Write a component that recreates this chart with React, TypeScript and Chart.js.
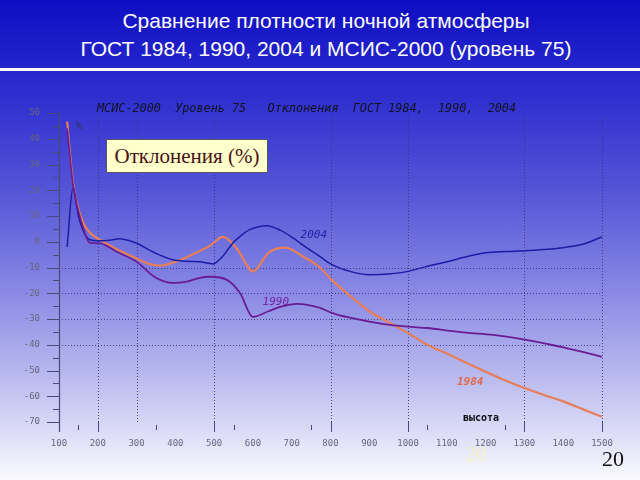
import React, { useEffect, useRef } from "react";
import { Chart, registerables } from "chart.js";

Chart.register(...registerables);

// ---- Data (altitude km -> deviation %) ----
const alt2004 = [121, 136, 150, 170, 180, 200, 230, 257, 280, 300, 350, 394, 430, 463, 497, 520, 549, 570, 592, 636, 670, 703, 740, 773, 800, 850, 902, 950, 1000, 1050, 1100, 1150, 1200, 1250, 1300, 1350, 1400, 1450, 1500];
const dev2004 = [-2, 21, 10, 2, 0.8, 0.4, 0.6, 1.2, 0.5, -0.6, -4.5, -7, -7.6, -7.8, -8.6, -6, -0.4, 2.5, 4.7, 6.2, 4.5, 1.5, -2.5, -5.8, -8.6, -11.5, -12.8, -12.5, -11.5, -9.5, -7.8, -5.8, -4.3, -3.8, -3.5, -3, -2.3, -1, 1.9];

const alt1990 = [121, 136, 159, 180, 205, 250, 300, 350, 394, 430, 463, 489, 533, 567, 600, 640, 670, 713, 773, 803, 850, 900, 953, 1000, 1050, 1108, 1150, 1219, 1301, 1358, 1400, 1450, 1500];
const dev1990 = [44, 22, 7, -0.4, -0.6, -4, -7.8, -14, -16, -15.5, -14, -13.6, -14.8, -20, -29.2, -27, -25.3, -24.1, -25.7, -27.6, -29.5, -31, -32.3, -33, -33.5, -34.6, -35.3, -36.2, -38, -39.7, -41, -42.8, -44.7];

const alt1984 = [121, 136, 159, 180, 205, 250, 291, 330, 360, 400, 450, 490, 523, 560, 600, 640, 683, 730, 773, 803, 850, 900, 953, 1000, 1050, 1108, 1150, 1200, 1237, 1300, 1366, 1400, 1450, 1500];
const dev1984 = [46.7, 23, 8.6, 3.5, 0.8, -3, -5.8, -8.5, -9.3, -7.8, -4.5, -1.5, 1.9, -3, -11.5, -4.3, -2.3, -5.8, -10, -14.8, -21, -27, -31.5, -35.5, -40, -44, -47, -50.5, -53, -56.8, -60.3, -62, -65, -68];

// ---- Axis / tick definitions ----
const xMin = 100;
const xMax = 1500;
const xStep = 100;
const yMin = -70;
const yMax = 50;
const yStep = 10;
const xMajorTicks = [200, 500, 800, 1000, 1300, 1500];
const xMinorTicks = [150, 350, 550, 750, 1050, 1250];
const xGridValues = [200, 300, 500, 800, 1000, 1300, 1500];
const yGridValues = [-10, -20, -30, -40];
const yMajorTicks = [50, 40, 30, 20, 10, 0, -10, -20, -30, -40, -50, -60, -70];
const yMinorTicks = [45, 35, 25, 15, 5, -5, -15, -25, -35, -45, -55, -65];

// ---- Texts ----
const titleLines = ["Сравнение плотности ночной атмосферы", "ГОСТ 1984, 1990, 2004 и МСИС-2000 (уровень 75)"];
const headerText = "МСИС-2000  Уровень 75   Отклонения  ГОСТ 1984,  1990,  2004";
const boxText = "Отклонения (%)";
const pageNumber = "20";

const toPoints = (xs: number[], ys: number[]) => xs.map((x, i) => ({ x, y: ys[i] }));

const decorPlugin = {
  id: "decor",
  beforeDatasetsDraw(chart: any) {
    const { ctx, chartArea: a } = chart;
    const xs = chart.scales.x;
    const ys = chart.scales.y;
    ctx.save();
    // dotted grid
    ctx.strokeStyle = "rgba(50,50,120,0.85)";
    ctx.lineWidth = 1;
    ctx.setLineDash([1, 2]);
    xGridValues.forEach((v) => {
      const px = Math.round(xs.getPixelForValue(v)) + 0.5;
      ctx.beginPath();
      ctx.moveTo(px, a.top + 2);
      ctx.lineTo(px, a.bottom);
      ctx.stroke();
    });
    yGridValues.forEach((v) => {
      const py = Math.round(ys.getPixelForValue(v)) + 0.5;
      ctx.beginPath();
      ctx.moveTo(a.left, py);
      ctx.lineTo(a.right, py);
      ctx.stroke();
    });
    ctx.setLineDash([]);
    // axis line
    ctx.strokeStyle = "#4a4a7a";
    ctx.lineWidth = 1.2;
    ctx.beginPath();
    ctx.moveTo(a.left + 0.5, a.top);
    ctx.lineTo(a.left + 0.5, a.bottom + 10);
    ctx.stroke();
    ctx.lineWidth = 1;
    yMajorTicks.forEach((v) => {
      const py = Math.round(ys.getPixelForValue(v)) + 0.5;
      ctx.beginPath();
      ctx.moveTo(a.left - 12, py);
      ctx.lineTo(a.left, py);
      ctx.stroke();
    });
    yMinorTicks.forEach((v) => {
      const py = Math.round(ys.getPixelForValue(v)) + 0.5;
      ctx.beginPath();
      ctx.moveTo(a.left - 6, py);
      ctx.lineTo(a.left, py);
      ctx.stroke();
    });
    xMajorTicks.forEach((v) => {
      const px = Math.round(xs.getPixelForValue(v)) + 0.5;
      ctx.beginPath();
      ctx.moveTo(px, a.bottom);
      ctx.lineTo(px, a.bottom + 10);
      ctx.stroke();
    });
    xMinorTicks.forEach((v) => {
      const px = Math.round(xs.getPixelForValue(v)) + 0.5;
      ctx.beginPath();
      ctx.moveTo(px, a.bottom + 3);
      ctx.lineTo(px, a.bottom + 8);
      ctx.stroke();
    });
    ctx.restore();
  },
  afterDatasetsDraw(chart: any) {
    const { ctx, chartArea: a } = chart;
    const xs = chart.scales.x;
    const ys = chart.scales.y;
    const px = (v: number) => xs.getPixelForValue(v);
    const py = (v: number) => ys.getPixelForValue(v);
    ctx.save();
    ctx.textBaseline = "middle";
    // header
    ctx.textAlign = "left";
    ctx.fillStyle = "#121220";
    ctx.font = "italic 11.8px 'DejaVu Sans Mono'";
    ctx.fillText(headerText, px(198), a.top - 4);
    // %
    ctx.font = "italic 11px 'DejaVu Sans Mono'";
    ctx.fillStyle = "#333355";
    ctx.textAlign = "center";
    ctx.fillText("%", px(152), py(45));
    // curve labels
    ctx.font = "italic 11px 'DejaVu Sans Mono'";
    ctx.fillStyle = "#2424a6";
    ctx.fillText("2004", px(757), py(2.7));
    ctx.fillStyle = "#7426a0";
    ctx.fillText("1990", px(659), py(-23.5));
    ctx.font = "italic bold 11px 'DejaVu Sans Mono'";
    ctx.fillStyle = "#e0684a";
    ctx.fillText("1984", px(1160), py(-54.4));
    ctx.font = "bold 10px 'DejaVu Sans Mono'";
    ctx.fillStyle = "#101018";
    ctx.fillText("высота", px(1188), py(-68.7));
    ctx.restore();
  },
};

export default function App() {
  const canvasRef = useRef<HTMLCanvasElement | null>(null);

  useEffect(() => {
    document.body.style.margin = "0";
    const canvas = canvasRef.current;
    if (!canvas) return;
    const chart = new Chart(canvas, {
      type: "line",
      data: {
        datasets: [
          {
            label: "1990",
            data: toPoints(alt1990, dev1990),
            borderColor: "#6a1c92",
            borderWidth: 1.8,
            pointRadius: 0,
            cubicInterpolationMode: "monotone",
            fill: false,
          },
          {
            label: "2004",
            data: toPoints(alt2004, dev2004),
            borderColor: "#1c1ca4",
            borderWidth: 1.5,
            pointRadius: 0,
            cubicInterpolationMode: "monotone",
            fill: false,
          },
          {
            label: "1984",
            data: toPoints(alt1984, dev1984),
            borderColor: "#e67e58",
            borderWidth: 2.2,
            pointRadius: 0,
            cubicInterpolationMode: "monotone",
            fill: false,
          },
        ],
      },
      options: {
        responsive: false,
        animation: false,
        layout: { padding: { top: 113, right: 38, left: 0, bottom: 0 } },
        plugins: {
          legend: { display: false },
          tooltip: { enabled: false },
          title: { display: false },
        },
        scales: {
          x: {
            type: "linear",
            min: xMin,
            max: xMax,
            grid: { display: false, drawTicks: false },
            border: { display: false },
            ticks: {
              stepSize: xStep,
              color: "#66667e",
              font: { family: "'DejaVu Sans Mono'", size: 9 },
              padding: 16,
              maxRotation: 0,
              autoSkip: false,
              callback: (v: any) => String(v),
            },
            afterFit: (s: any) => {
              s.height = 58;
            },
          },
          y: {
            type: "linear",
            min: yMin,
            max: yMax,
            grid: { display: false, drawTicks: false },
            border: { display: false },
            ticks: {
              stepSize: yStep,
              color: "#66667e",
              font: { family: "'DejaVu Sans Mono'", size: 9 },
              padding: 19,
              callback: (v: any) => String(v),
            },
            afterFit: (s: any) => {
              s.width = 59;
            },
          },
        },
      },
      plugins: [decorPlugin],
    });
    return () => chart.destroy();
  }, []);

  return (
    <div
      style={{
        position: "fixed",
        left: 0,
        top: 0,
        width: 640,
        height: 480,
        overflow: "hidden",
        background:
          "linear-gradient(to bottom, rgb(14,14,196) 0%, rgb(48,48,208) 21%, rgb(85,85,215) 40%, rgb(135,135,228) 60%, rgb(190,190,240) 80%, rgb(250,250,255) 100%)",
      }}
    >
      <div
        style={{
          position: "absolute",
          left: 6,
          top: 7,
          width: 640,
          textAlign: "center",
          color: "#ffffff",
          fontFamily: "'Liberation Sans', Arial, sans-serif",
          fontSize: 21,
          lineHeight: "28px",
        }}
      >
        <div>{titleLines[0]}</div>
        <div>{titleLines[1]}</div>
      </div>
      <div style={{ position: "absolute", left: 0, top: 68, width: 640, height: 3, background: "#ffffff" }} />
      <canvas ref={canvasRef} width={640} height={480} style={{ position: "absolute", left: 0, top: 0, width: 640, height: 480 }} />
      <div
        style={{
          position: "absolute",
          left: 106,
          top: 139,
          width: 162,
          height: 34,
          boxSizing: "border-box",
          background: "#ffffcc",
          border: "1px solid #555566",
          color: "#4a1212",
          fontFamily: "'Liberation Serif', 'Times New Roman', serif",
          fontSize: 21,
          lineHeight: "32px",
          textAlign: "center",
          whiteSpace: "nowrap",
        }}
      >
        {boxText}
      </div>
      <div
        style={{
          position: "absolute",
          left: 466,
          top: 443,
          color: "rgba(245,245,190,0.9)",
          fontFamily: "'Liberation Serif', serif",
          fontSize: 20,
        }}
      >
        {pageNumber}
      </div>
      <div
        style={{
          position: "absolute",
          left: 602,
          top: 446,
          color: "#111111",
          fontFamily: "'Liberation Serif', 'Times New Roman', serif",
          fontSize: 22,
        }}
      >
        {pageNumber}
      </div>
    </div>
  );
}
